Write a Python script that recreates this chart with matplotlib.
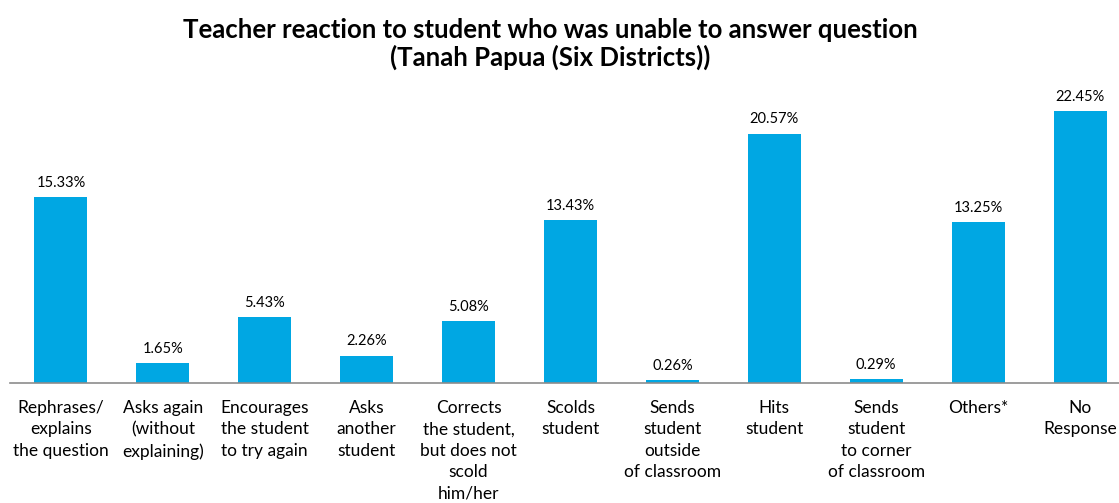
import matplotlib
matplotlib.use("Agg")
import matplotlib.pyplot as plt

categories = [
    "Rephrases/\nexplains\nthe question",
    "Asks again\n(without\nexplaining)",
    "Encourages\nthe student\nto try again",
    "Asks\nanother\nstudent",
    "Corrects\nthe student,\nbut does not\nscold\nhim/her",
    "Scolds\nstudent",
    "Sends\nstudent\noutside\nof classroom",
    "Hits\nstudent",
    "Sends\nstudent\nto corner\nof classroom",
    "Others*",
    "No\nResponse",
]
values = [15.33, 1.65, 5.43, 2.26, 5.08, 13.43, 0.26, 20.57, 0.29, 13.25, 22.45]
value_labels = ["15.33%", "1.65%", "5.43%", "2.26%", "5.08%", "13.43%", "0.26%",
                "20.57%", "0.29%", "13.25%", "22.45%"]
title = "Teacher reaction to student who was unable to answer question\n(Tanah Papua (Six Districts))"

plt.rcParams['font.family'] = ['Lato', 'DejaVu Sans']
W, H = 1119, 503
fig = plt.figure(figsize=(W / 100, H / 100), dpi=100)
ax = fig.add_axes([10 / W, 120 / H, 1121 / W, 303 / H])

x = list(range(len(categories)))
bars = ax.bar(x, values, width=0.52, color="#00A7E3")
for xi, v, lab in zip(x, values, value_labels):
    ax.text(xi, v + 0.6, lab, ha="center", va="bottom", fontsize=10.5, color="#000000")

ax.set_xlim(-0.5, len(categories) - 0.5)
ax.set_ylim(0, 25)
ax.set_xticks(x)
ax.set_xticklabels(categories, fontsize=12.5, linespacing=1.42, color="#000000")
ax.tick_params(axis="x", length=0, pad=12)
ax.set_yticks([])
for s in ["top", "right", "left"]:
    ax.spines[s].set_visible(False)
ax.spines["bottom"].set_color("#8c8c8c")
ax.spines["bottom"].set_linewidth(1.2)

fig.text(550 / W, 1 - 44 / H, title, ha="center", va="center", fontsize=18.5,
         fontweight="bold", linespacing=1.1)

fig.savefig("out.png", dpi=100)
